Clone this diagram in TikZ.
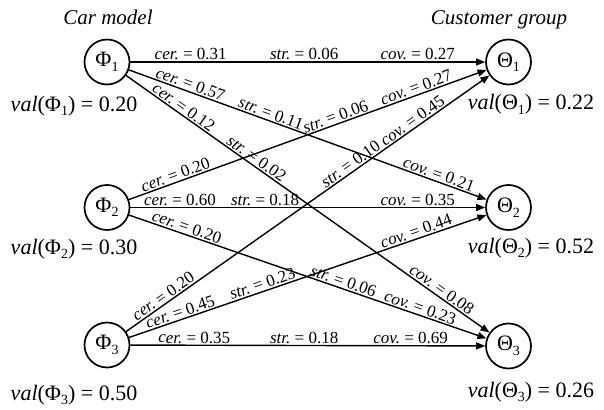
\documentclass[tikz,border=0pt]{standalone}
\usepackage{fontspec}
\setmainfont{Liberation Serif}
\usetikzlibrary{arrows.meta}
\newcommand\sbs[1]{\raisebox{-0.45ex}{\fontsize{14}{14}\selectfont #1}}
\newcommand\lb[2]{{\itshape #1}~=~#2}
\begin{document}
\begin{tikzpicture}[x=1pt,y=-1pt,
  vertex/.style={draw,circle,line width=1.7pt,minimum size=45pt,inner sep=0pt,font=\fontsize{22}{22}\selectfont},
  edge/.style={line width=1.4pt,-{Triangle[length=9pt,width=7pt]}},
  lab/.style={font=\fontsize{17}{17}\selectfont,sloped,above,inner sep=1.2pt},
  val/.style={font=\fontsize{22}{22}\selectfont,anchor=base,inner sep=0pt},
  ttl/.style={font=\itshape\fontsize{21}{21}\selectfont,anchor=base,inner sep=0pt}]
\useasboundingbox (0,0) rectangle (604,409);
\node[vertex] (p1) at (107,62) {Φ\sbs{1}};
\node[vertex] (p2) at (107,207.5) {Φ\sbs{2}};
\node[vertex] (p3) at (107,345) {Φ\sbs{3}};
\node[vertex] (t1) at (508.5,62) {Θ\sbs{1}};
\node[vertex] (t2) at (508.5,207.5) {Θ\sbs{2}};
\node[vertex] (t3) at (508.5,346) {Θ\sbs{3}};
\node[ttl] (tc) at (108,25) {Car model};
\node[ttl] (tg) at (499,25) {Customer group};
\node[val] (v1) at (74,111) {{\itshape val}(Φ\sbs{1})~=~0.20};
\node[val] (v2) at (74,254) {{\itshape val}(Φ\sbs{2})~=~0.30};
\node[val] (v3) at (74,400) {{\itshape val}(Φ\sbs{3})~=~0.50};
\node[val] (w1) at (531,110) {{\itshape val}(Θ\sbs{1})~=~0.22};
\node[val] (w2) at (531,253) {{\itshape val}(Θ\sbs{2})~=~0.52};
\node[val] (w3) at (531,397) {{\itshape val}(Θ\sbs{3})~=~0.26};
% edges from p1
\draw[edge] (p1) -- (t1)
  node[lab,pos=0.17] {\lb{cer.}{0.31}}
  node[lab,pos=0.49] {\lb{str.}{0.06}}
  node[lab,pos=0.81] {\lb{cov.}{0.27}};
\draw[edge] (p1) -- (t2)
  node[lab,pos=0.165] {\lb{cer.}{0.57}}
  node[lab,pos=0.39] {\lb{str.}{0.11}}
  node[lab,pos=0.86] {\lb{cov.}{0.21}};
\draw[edge] (p1) -- (t3)
  node[lab,pos=0.147] {\lb{cer.}{0.12}}
  node[lab,pos=0.347] {\lb{str.}{0.02}}
  node[lab,pos=0.857] {\lb{cov.}{0.08}};
% edges from p2
\draw[edge] (p2) -- (t1)
  node[lab,pos=0.137] {\lb{cer.}{0.20}}
  node[lab,pos=0.585] {\lb{str.}{0.06}}
  node[lab,pos=0.81] {\lb{cov.}{0.27}};
\draw[edge] (p2) -- (t2)
  node[lab,pos=0.14] {\lb{cer.}{0.60}}
  node[lab,pos=0.38] {\lb{str.}{0.18}}
  node[lab,pos=0.81] {\lb{cov.}{0.35}};
\draw[edge] (p2) -- (t3)
  node[lab,pos=0.155] {\lb{cer.}{0.20}}
  node[lab,pos=0.593] {\lb{str.}{0.06}}
  node[lab,pos=0.808] {\lb{cov.}{0.23}};
% edges from p3
\draw[edge] (p3) -- (t1)
  node[lab,pos=0.114] {\lb{cer.}{0.20}}
  node[lab,pos=0.63] {\lb{str.}{0.10}}
  node[lab,pos=0.8] {\lb{cov.}{0.45}};
\draw[edge] (p3) -- (t2)
  node[lab,pos=0.15] {\lb{cer.}{0.45}}
  node[lab,pos=0.38] {\lb{str.}{0.23}}
  node[lab,pos=0.81] {\lb{cov.}{0.44}};
\draw[edge] (p3) -- (t3)
  node[lab,pos=0.18] {\lb{cer.}{0.35}}
  node[lab,pos=0.49] {\lb{str.}{0.18}}
  node[lab,pos=0.79] {\lb{cov.}{0.69}};
\end{tikzpicture}
\end{document}
